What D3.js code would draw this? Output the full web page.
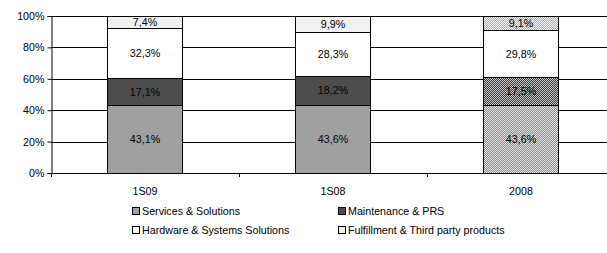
<!DOCTYPE html>
<html>
<head>
<meta charset="utf-8">
<script src="https://cdn.jsdelivr.net/npm/d3@7"></script>
<style>
  body { margin: 0; background: #fff; }
  text { font-family: "Liberation Sans", Arial, sans-serif; font-size: 10.7px; fill: #000; }
</style>
</head>
<body>
<svg id="chart" width="607" height="253"></svg>
<script>
const categories = ["1S09", "1S08", "2008"];
const series = ["Services & Solutions", "Maintenance & PRS", "Hardware & Systems Solutions", "Fulfillment & Third party products"];
const services = [43.1, 43.6, 43.6];
const maintenance = [17.1, 18.2, 17.5];
const hardware = [32.3, 28.3, 29.8];
const fulfillment = [7.4, 9.9, 9.1];
const yTicks = [0, 20, 40, 60, 80, 100];

const values = [services, maintenance, hardware, fulfillment];
const fills = ["#a0a0a0", "#4d4d4d", "#ffffff", "#f0f0f0"];

const svg = d3.select("#chart");
const margin = { left: 51, top: 16 };
const plotW = 564, plotH = 157;

// patterns for the 2008 bar
const defs = svg.append("defs");
const patDefs = [
  { id: "p0", bg: "#e4e4e4", dot: "#8a8a8a" },
  { id: "p1", bg: "#c8c8c8", dot: "#3a3a3a" },
  { id: "p2", bg: "#ffffff", dot: "#ffffff" },
  { id: "p3", bg: "#f4f4f4", dot: "#b0b0b0" }
];
patDefs.forEach(p => {
  const pat = defs.append("pattern").attr("id", p.id)
    .attr("width", 2).attr("height", 2).attr("patternUnits", "userSpaceOnUse");
  pat.append("rect").attr("width", 2).attr("height", 2).attr("fill", p.bg);
  pat.append("rect").attr("width", 1).attr("height", 1).attr("fill", p.dot);
  pat.append("rect").attr("x", 1).attr("y", 1).attr("width", 1).attr("height", 1).attr("fill", p.dot);
});

const x = d3.scaleBand().domain(categories).range([0, plotW]).paddingInner(0.6).paddingOuter(0.3);
const y = d3.scaleLinear().domain([0, 100]).range([plotH, 0]);

const g = svg.append("g").attr("transform", `translate(${margin.left},${margin.top})`);

// gridlines
g.selectAll(".grid").data(yTicks.slice(1)).join("line")
  .attr("x1", 0).attr("x2", plotW)
  .attr("y1", d => Math.round(y(d)) + 0.5).attr("y2", d => Math.round(y(d)) + 0.5)
  .attr("stroke", "#000").attr("stroke-width", 1);

// y axis
const yAxis = g.append("g").attr("transform", "translate(0.5,0)")
  .call(d3.axisLeft(y).tickValues(yTicks).tickFormat(d => d + "%").tickSize(4).tickPadding(3));
yAxis.select(".domain").attr("stroke", "#000");
yAxis.selectAll("text").style("font-size", "10.7px");

// stacks
const stackData = categories.map((c, i) => {
  let acc = 0;
  return values.map((v, s) => {
    const seg = { cat: c, ci: i, s, v: v[i], y0: acc, y1: acc + v[i] };
    acc += v[i];
    return seg;
  });
}).flat();

// make top reach 100 visually
stackData.forEach(d => { if (d.s === 3) d.y1 = 100; });

g.selectAll(".seg").data(stackData).join("rect")
  .attr("x", d => Math.round(x(d.cat)) + 0.5)
  .attr("width", Math.round(x.bandwidth()))
  .attr("y", d => Math.round(y(d.y1)) + 0.5)
  .attr("height", d => Math.round(y(d.y0)) - Math.round(y(d.y1)))
  .attr("fill", d => d.ci === 2 ? `url(#p${d.s})` : fills[d.s])
  .attr("stroke", "#000").attr("stroke-width", 1);

g.selectAll(".lbl").data(stackData).join("text")
  .attr("x", d => x(d.cat) + x.bandwidth() / 2)
  .attr("y", d => y((d.y0 + d.y1) / 2))
  .attr("dy", "0.36em")
  .attr("text-anchor", "middle")
  .text(d => d.v.toFixed(1).replace(".", ",") + "%");

// x axis
g.append("line").attr("x1", 0).attr("x2", plotW)
  .attr("y1", plotH + 0.5).attr("y2", plotH + 0.5).attr("stroke", "#000");
g.selectAll(".xt").data(d3.range(categories.length + 1)).join("line")
  .attr("x1", d => Math.round(d * plotW / categories.length) + 0.5)
  .attr("x2", d => Math.round(d * plotW / categories.length) + 0.5)
  .attr("y1", plotH).attr("y2", plotH + 4).attr("stroke", "#000");
g.selectAll(".xl").data(categories).join("text")
  .attr("x", d => x(d) + x.bandwidth() / 2)
  .attr("y", plotH + 22)
  .attr("text-anchor", "middle")
  .text(d => d);

// legend
const legPos = [[132, 215], [338, 215], [132, 234], [338, 234]];
const leg = svg.selectAll(".leg").data(series).join("g")
  .attr("transform", (d, i) => `translate(${legPos[i][0]},${legPos[i][1]})`);
leg.append("rect").attr("x", 0.5).attr("y", -7.5).attr("width", 7).attr("height", 7)
  .attr("fill", (d, i) => fills[i]).attr("stroke", "#000");
leg.append("text").attr("x", 10).attr("y", 0).text(d => d);
</script>
</body>
</html>
